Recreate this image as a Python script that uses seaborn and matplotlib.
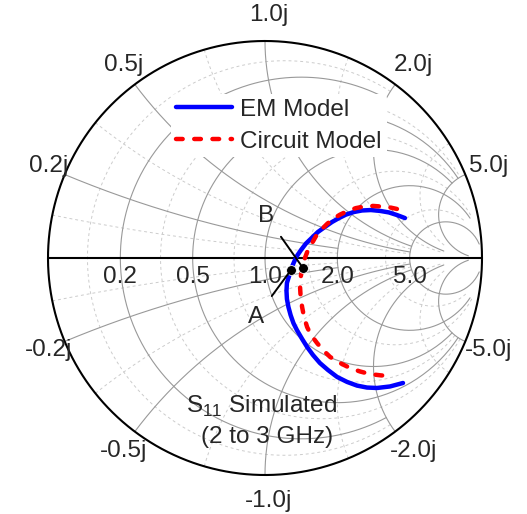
import numpy as np
import matplotlib
matplotlib.use("Agg")
import matplotlib.pyplot as plt
import seaborn as sns

sns.set_style("white")
plt.rcParams['font.family'] = ['Liberation Sans', 'DejaVu Sans']
plt.rcParams['mathtext.fontset'] = 'custom'
plt.rcParams['mathtext.rm'] = 'Liberation Sans'

em_re = [0.645, 0.608, 0.571, 0.530, 0.488, 0.447, 0.410, 0.373, 0.341, 0.309,
         0.276, 0.244, 0.217, 0.189, 0.166, 0.147, 0.134, 0.120, 0.111, 0.101,
         0.099, 0.101, 0.108, 0.118, 0.131, 0.147, 0.171, 0.194, 0.221, 0.253,
         0.290, 0.332, 0.378, 0.424, 0.470, 0.516, 0.576, 0.636]
em_im = [0.184, 0.198, 0.210, 0.217, 0.221, 0.219, 0.212, 0.200, 0.184, 0.166,
         0.143, 0.120, 0.094, 0.067, 0.037, 0.009, -0.018, -0.051, -0.083, -0.115,
         -0.152, -0.189, -0.226, -0.263, -0.300, -0.332, -0.373, -0.410, -0.447, -0.484,
         -0.516, -0.548, -0.571, -0.588, -0.597, -0.599, -0.592, -0.576]
ckt_re = [0.608, 0.576, 0.539, 0.498, 0.456, 0.419, 0.382, 0.346, 0.313, 0.286,
          0.258, 0.235, 0.217, 0.198, 0.184, 0.175, 0.166, 0.161, 0.164, 0.171,
          0.180, 0.194, 0.212, 0.240, 0.267, 0.300, 0.346, 0.392, 0.438, 0.484,
          0.535, 0.590]
ckt_im = [0.226, 0.233, 0.237, 0.240, 0.237, 0.230, 0.217, 0.200, 0.180, 0.157,
          0.129, 0.101, 0.069, 0.037, 0.000, -0.037, -0.078, -0.124, -0.175, -0.226,
          -0.272, -0.318, -0.355, -0.392, -0.424, -0.456, -0.484, -0.507, -0.523, -0.535,
          -0.541, -0.544]

# marked points A (EM) and B (circuit)
pt_re = [0.120, 0.175]
pt_im = [-0.055, -0.046]

# chart grid values and how far each circle / arc runs
grid_vals = [0.2, 0.5, 1.0, 2.0, 5.0]
grid_lims = [2.0, 5.0, 5.0, 10.0, 30.0]
sub_vals = [0.1, 0.35, 0.75, 1.5, 3.5]
sub_lims = [2.0, 5.0, 5.0, 10.0, 10.0]

fig = plt.figure(figsize=(5.27, 5.14), dpi=100)
ax = fig.add_axes([0, 0, 1, 1])
ax.set_xlim(-265 / 217, 262 / 217)
ax.set_ylim(-256 / 217, 258 / 217)
ax.axis("off")


def gamma(z):
    return (z - 1) / (z + 1)


def r_line(r, x0, x1, **kw):
    t = np.linspace(np.arctan(x0), np.arctan(x1), 300)
    g = gamma(r + 1j * np.tan(t))
    ax.plot(g.real, g.imag, **kw)


def x_line(x, r0, r1, **kw):
    t = np.linspace(np.arctan(r0), np.arctan(r1), 300)
    g = gamma(np.tan(t) + 1j * x)
    ax.plot(g.real, g.imag, **kw)


minor = dict(color="0.8", lw=0.7, ls=(0, (3, 3)), zorder=1)
major = dict(color="0.6", lw=0.8, zorder=2)

for v, lim in zip(sub_vals, sub_lims):
    r_line(v, -lim, lim, **minor)
    for s in (1, -1):
        x_line(s * v, 0, lim, **minor)

for v, lim in zip(grid_vals, grid_lims):
    r_line(v, -lim, lim, **major)
    for s in (1, -1):
        x_line(s * v, 0, lim, **major)

# outer circle and real axis
t = np.linspace(0, 2 * np.pi, 600)
ax.plot(np.cos(t), np.sin(t), color="k", lw=1.5, zorder=3)
ax.plot([-1, 1], [0, 0], color="k", lw=1.5, zorder=3)

fs = 17.5
for v in grid_vals:
    g = gamma(v)
    ax.text(g, -0.035, f"{v:.1f}", ha="center", va="top", fontsize=fs, zorder=4)
for v in grid_vals:
    for s in (1, -1):
        g = gamma(1j * s * v)
        ang = np.angle(g)
        rad = 1.085 + 0.035 * abs(np.sin(ang))
        ax.text(rad * np.cos(ang) + 0.015, rad * np.sin(ang), f"{s * v:.1f}j",
                ha="center", va="center", fontsize=fs, zorder=4)

sns.lineplot(x=em_re, y=em_im, sort=False, estimator=None, color="#0000ff",
             lw=3.2, label="EM Model", ax=ax, zorder=5)
sns.lineplot(x=ckt_re, y=ckt_im, sort=False, estimator=None, color="#ff0000",
             lw=3.2, label="Circuit Model", ax=ax, zorder=6)
red = ax.lines[-1]
red.set_linestyle((0, (1.5, 2.6)))
red.set_dash_capstyle("round")

sns.scatterplot(x=pt_re, y=pt_im, color="k", s=50, zorder=8, ax=ax, legend=False)
ax.annotate("A", xy=(pt_re[0], pt_im[0]), xytext=(-0.04, -0.272), fontsize=fs,
            ha="center", va="center", zorder=8,
            arrowprops=dict(arrowstyle="-", color="k", lw=1.4, shrinkA=6, shrinkB=0))
ax.annotate("B", xy=(pt_re[1], pt_im[1]), xytext=(0.005, 0.195), fontsize=fs,
            ha="center", va="center", zorder=8,
            arrowprops=dict(arrowstyle="-", color="k", lw=1.4, shrinkA=6, shrinkB=0))

ax.text(-0.015, -0.685, "S$_{\\mathrm{11}}$ Simulated", fontsize=fs, ha="center", va="center")
ax.text(0.01, -0.825, "(2 to 3 GHz)", fontsize=fs, ha="center", va="center")

leg = ax.legend(loc="upper left", bbox_to_anchor=(171 / 527, 1 - 94 / 514),
                fontsize=fs, handlelength=2.3, handletextpad=0.35,
                labelspacing=0.4, borderpad=0.2, borderaxespad=0,
                frameon=True, facecolor="white", edgecolor="none", framealpha=1)
leg.set_zorder(7)

fig.savefig("out.png", dpi=100)
